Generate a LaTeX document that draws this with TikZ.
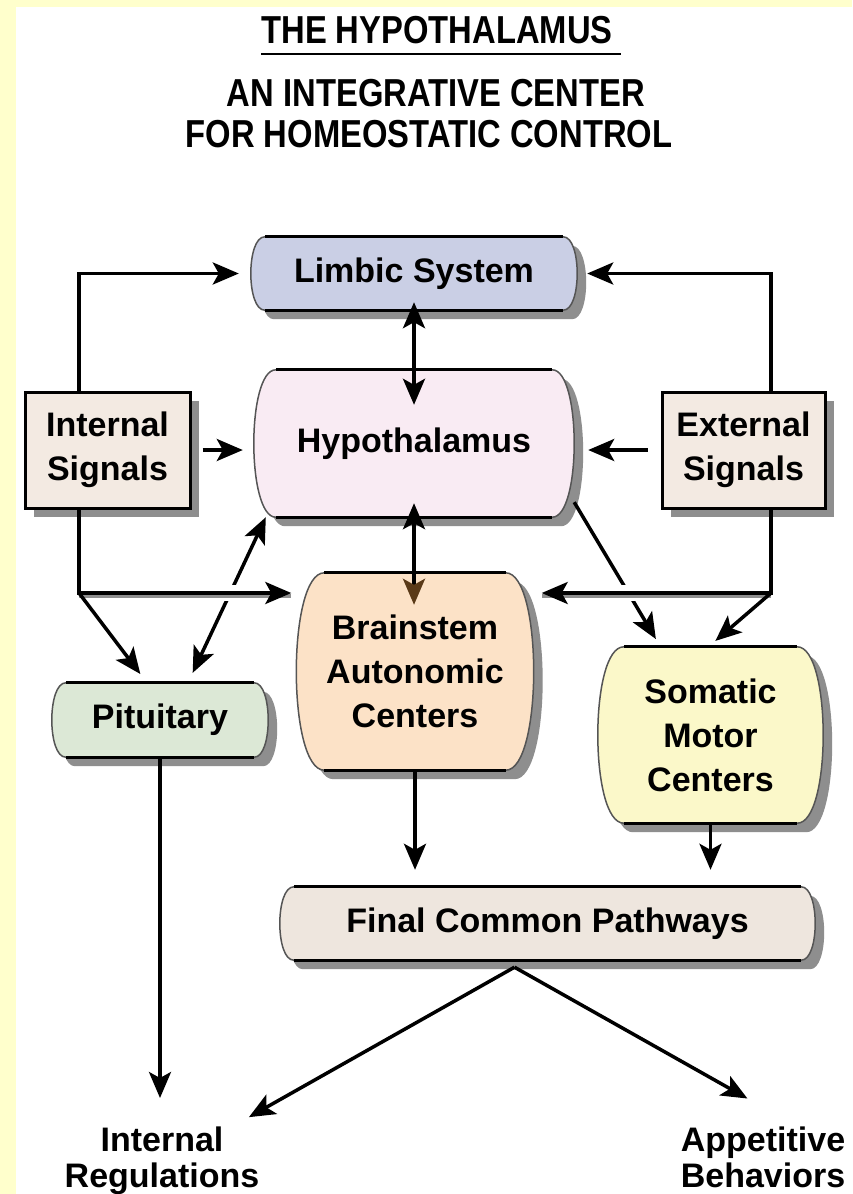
\documentclass[tikz,border=0pt]{standalone}
\usepackage{fontspec}
\setmainfont{Liberation Sans}
\newfontfamily\headfont[FakeStretch=0.84]{Liberation Sans}
\usepackage{tikz}
\usetikzlibrary{calc,arrows.meta,backgrounds,shadows}
\definecolor{paper}{HTML}{FFFFCC}
\definecolor{limbicfill}{HTML}{CACFE5}
\definecolor{hypofill}{HTML}{F9EBF3}
\definecolor{sigfill}{HTML}{F3EAE2}
\definecolor{brainfill}{HTML}{FCE2C7}
\definecolor{pitfill}{HTML}{DCE8D6}
\definecolor{somfill}{HTML}{FBF8C9}
\definecolor{finalfill}{HTML}{EEE6DE}
\definecolor{shadowgray}{HTML}{8E8E8E}
\definecolor{rim}{HTML}{555555}
\definecolor{tipbrown}{HTML}{5A3A18}
\newcommand\bodyfont{\fontsize{34}{44}\selectfont\bfseries}
\newcommand\titlefont{\headfont\fontsize{39}{41}\selectfont\bfseries}
\tikzset{
  box/.style={draw=none, inner sep=0pt, align=center, font=\bodyfont},
  sig/.style={box, draw=black, line width=3pt, fill=sigfill,
    drop shadow={shadow xshift=9pt, shadow yshift=-9pt, fill=shadowgray, opacity=1}},
  lab/.style={inner sep=0pt, align=center, font=\fontsize{34}{36}\selectfont\bfseries},
  head/.style={inner sep=0pt, font=\titlefont},
  arr/.style={draw=black, line width=3.5pt, -{Stealth[length=26pt, width=22pt, inset=6pt]}},
  arr2/.style={arr, {Stealth[length=26pt, width=22pt, inset=6pt]}-{Stealth[length=26pt, width=22pt, inset=6pt]}},
  line/.style={draw=black, line width=3.5pt, line cap=rect},
  bridge/.style={preaction={draw=white, line width=16pt, -},
    preaction={draw=shadowgray, line width=4pt, -, transform canvas={yshift=-3pt}}},
  pod/.style n args={2}{insert path={
    ([xshift=#2pt]#1.north west) -- ([xshift=-#2pt]#1.north east)
    .. controls ([xshift=#2pt/3]#1.north east) and ([xshift=#2pt/3]#1.south east) .. ([xshift=-#2pt]#1.south east)
    -- ([xshift=#2pt]#1.south west)
    .. controls ([xshift=-#2pt/3]#1.south west) and ([xshift=-#2pt/3]#1.north west) .. cycle}},
}

\begin{document}
\begin{tikzpicture}[x=1pt, y=-1pt]
  \useasboundingbox (0,0) rectangle (852,1194);

  % title
  \node[head, anchor=base] (title) at (437,43) {THE HYPOTHALAMUS};
  \draw[line width=2.5pt] ([yshift=-11pt]title.base west) -- ([xshift=8pt,yshift=-11pt]title.base east);
  \node[head, anchor=base] (sub1) at (436,106) {AN INTEGRATIVE CENTER};
  \node[head, anchor=base] (sub2) at (429,147) {FOR HOMEOSTATIC CONTROL};

  % boxes
  \node[box, minimum width=326pt, minimum height=73pt] (limbic) at (414,273.5) {Limbic System};
  \node[box, minimum width=320pt, minimum height=147pt] (hypo) at (414,443.5) {Hypothalamus};
  \node[sig, minimum width=165pt, minimum height=116pt] (insig) at (107.5,450) {Internal\\Signals};
  \node[sig, minimum width=163pt, minimum height=116pt] (exsig) at (743.5,450) {External\\Signals};
  \node[box, minimum width=237pt, minimum height=197pt] (brain) at (415,671.5) {Brainstem\\Autonomic\\Centers};
  \node[box, minimum width=216pt, minimum height=74pt] (pit) at (160,720) {Pituitary};
  \node[box, minimum width=225pt, minimum height=176pt] (somatic) at (710.5,735) {Somatic\\Motor\\Centers};
  \node[box, minimum width=535pt, minimum height=73pt] (final) at (547.5,923.5) {Final Common Pathways};
  \node[lab, anchor=north] (intreg) at (162,1127) {Internal\\Regulations};
  \node[lab, anchor=north] (appet) at (763,1127) {Appetitive\\Behaviors};

  \begin{scope}[on background layer]
    \fill[paper] (0,0) rectangle (852,1194);
    \fill[white] (16,7) rectangle (852,1194);
    \foreach \n/\b/\c in {limbic/14/limbicfill, hypo/22/hypofill, brain/28/brainfill,
        pit/14/pitfill, somatic/26/somfill, final/14/finalfill}{
      \fill[shadowgray, transform canvas={shift={(9pt,-9pt)}}] [pod={\n}{\b}];
      \filldraw[fill=\c, draw=rim, line width=1.5pt] [pod={\n}{\b}];
      \draw[line width=3pt] ([xshift=\b pt]\n.north west) -- ([xshift=-\b pt]\n.north east)
        ([xshift=\b pt]\n.south west) -- ([xshift=-\b pt]\n.south east);
    }
  \end{scope}

  \coordinate (ijoin) at (79,593);
  \coordinate (ejoin) at (771,593);
  \coordinate (apex) at ([xshift=-33pt,yshift=-7pt]final.south);

  % diagonals crossing the horizontal lines
  \draw[arr2, shorten <=11pt] ([xshift=28pt]pit.north) -- ([xshift=12pt]hypo.south west);
  \draw[arr, shorten >=9pt] ([yshift=15pt]hypo.south east) -- ([xshift=-50pt]somatic.north);

  % horizontal lines to the brainstem
  \draw[arr, bridge, shorten >=5pt] (ijoin) -- (ijoin -| brain.west);
  \draw[arr, bridge, shorten >=8pt] (ejoin) -- (ejoin -| brain.east);
  \draw[line] (insig.south -| ijoin) -- (ijoin);
  \draw[line] (exsig.south -| ejoin) -- (ejoin);
  \draw[arr, shorten >=11pt] (ijoin) -- ([xshift=-13pt]pit.north);
  \draw[arr, shorten >=9pt] (ejoin) -- ([xshift=-2pt]somatic.north);

  % loops to the limbic system
  \draw[arr, shorten >=12pt] (insig.north -| ijoin) |- (limbic.west);
  \draw[arr, shorten >=10pt] (exsig.north -| ejoin) |- (limbic.east);
  \draw[arr2, shorten <=-8pt, shorten >=-35pt] (limbic.south) -- (hypo.north);

  % signals into the hypothalamus
  \draw[arr, shorten <=11pt, shorten >=11pt] (insig.east) -- (insig.east -| hypo.west);
  \draw[arr, shorten <=13pt, shorten >=14pt] (exsig.west) -- (exsig.west -| hypo.east);
  \draw[arr, {Stealth[length=26pt, width=22pt, inset=6pt]}-{Stealth[length=26pt, width=22pt, inset=6pt, color=tipbrown]},
    shorten <=-14pt, shorten >=-32pt] (hypo.south) -- (hypo.south |- brain.north);

  % outputs
  \draw[arr, shorten >=17pt] (brain.south) -- (brain.south |- final.north);
  \draw[arr, shorten >=17pt] (somatic.south) -- (somatic.south |- final.north);
  \draw[arr, shorten >=29pt] (pit.south) -- (pit.south |- intreg.north);
  \draw[arr, shorten >=20pt] (apex) -- ([xshift=-28pt]intreg.north east);
  \draw[arr, shorten >=58pt] (apex) -- ([xshift=35pt]appet.north);
\end{tikzpicture}
\end{document}
